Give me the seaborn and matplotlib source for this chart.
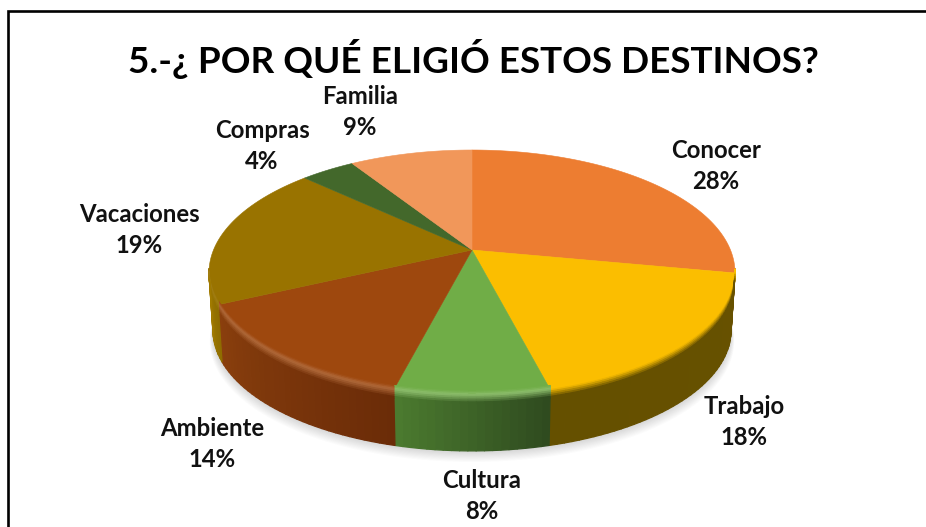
import numpy as np
import matplotlib
matplotlib.use('Agg')
import matplotlib.pyplot as plt
from matplotlib.collections import PolyCollection
import seaborn as sns

# Datos
categories = ['Conocer', 'Trabajo', 'Cultura', 'Ambiente', 'Vacaciones', 'Compras', 'Familia']
values = [28, 18, 8, 14, 19, 4, 9]
title = '5.-¿ POR QUÉ ELIGIÓ ESTOS DESTINOS?'

# Colores de la cara superior y del borde (izquierda y derecha de cada porcion)
top_colors = sns.color_palette(['#ED7D31', '#FBBE00', '#70AD47', '#9E480E', '#997300', '#43682B', '#F1975A'])
rim_left = ['#8A4A1C', '#655000', '#4B7A2F', '#8A3F0D', '#A07A00', '#43682B', '#F1975A']
rim_right = ['#8A4A1C', '#675100', '#2F4B1F', '#6B2C08', '#8F6D00', '#43682B', '#F1975A']
bevel_light = [0, 0, 0.2, 0.18, 0.08, 0, 0]

# Posiciones de las etiquetas, en pixeles de la imagen
label_x = [716, 744, 482, 212, 139, 262, 360]
label_y = [166, 422, 496, 444, 230, 146, 112]

sns.set_theme(style='white')
plt.rcParams['font.family'] = ['Lato', 'DejaVu Sans']

# Perspectiva del disco
CX, CY = 472, 250
A, B, K = 258.5, 118.4, 0.184
DEPTH, SHRINK = 58, 0.985


def project(theta, r=1.0):
    # theta en grados, horario desde las 12
    t = np.radians(theta)
    x = r * np.sin(t)
    y = r * np.cos(t)
    w = 1 + K * y
    return A * x / w, B * y / w


def px(x, y):
    return x - CX, CY - y


fig = plt.figure(figsize=(9.26, 5.27), dpi=100)
ax = fig.add_axes([0, 0, 1, 1])
ax.set_xlim(-CX, 926 - CX)
ax.set_ylim(CY - 527, CY)
ax.axis('off')

# Marco (solo arriba e izquierda)
ax.plot(*zip(px(7.5, 527), px(7.5, 10.5), px(926, 10.5)), color='black', lw=1.9, solid_joinstyle='miter')

# Sombra bajo el disco
circle = np.linspace(0, 360, 241)
for i in range(1, 11):
    sx, sy = project(circle)
    ax.fill(sx * (SHRINK + i * 0.0012), sy * SHRINK - DEPTH - i * 1.1, color='#555555', alpha=0.022, lw=0)

edges = np.concatenate([[0], np.cumsum(values)]) * 360 / sum(values)

# Cara superior
for i in range(len(values)):
    th = np.linspace(edges[i], edges[i + 1], 80)
    tx, ty = project(th)
    ax.fill(np.r_[0, tx], np.r_[0, ty], color=top_colors[i], lw=0.4, ec=top_colors[i], zorder=3)

# Borde frontal con bisel: bandas de color calculadas por angulo
front_start, front_end = 100.6, 259.4
bands = np.r_[np.linspace(-4, 0, 4), np.linspace(1.5, 9, 5), DEPTH]
for i in range(len(values)):
    a0 = max(edges[i], front_start)
    a1 = min(edges[i + 1], front_end)
    if a1 <= a0:
        continue
    steps = max(int((a1 - a0) / 1.5), 2)
    th = np.linspace(a0, a1, steps + 1)
    tx, ty = project(th)
    base = np.array(top_colors[i])
    light = base + (1 - base) * bevel_light[i]
    # theta crece de derecha a izquierda en el frente
    ramp = sns.blend_palette([rim_right[i], rim_left[i]], steps)
    polys, cols = [], []
    for b in range(len(bands) - 1):
        for s in range(steps):
            d0, d1 = bands[b], bands[b + 1]

            def pos(j, d):
                f = max(d, 0) / DEPTH
                scale = 1 - (1 - SHRINK) * f
                return tx[j] * scale, ty[j] * scale - d
            polys.append([pos(s, d0), pos(s + 1, d0), pos(s + 1, d1), pos(s, d1)])
            mid = (d0 + d1) / 2
            if mid < 0:
                c = base + (light - base) * (mid + 4) / 4
            else:
                c = light + (np.array(ramp[s]) - light) * min(mid / 8, 1)
            cols.append(np.clip(c, 0, 1))
    ax.add_collection(PolyCollection(polys, facecolors=cols, edgecolors=cols, linewidths=0.9, zorder=4))

# Textos
ax.text(*px(473, 59), title, fontsize=26.6, fontweight='bold', color='black', ha='center', va='center', zorder=6)
for name, v, lx, ly in zip(categories, values, label_x, label_y):
    ax.text(*px(lx, ly), f'{name}\n{v}%', fontsize=17.2, fontweight='bold', color='#111111',
            ha='center', va='center', linespacing=1.43, zorder=6)

plt.savefig('out.png', dpi=100)
